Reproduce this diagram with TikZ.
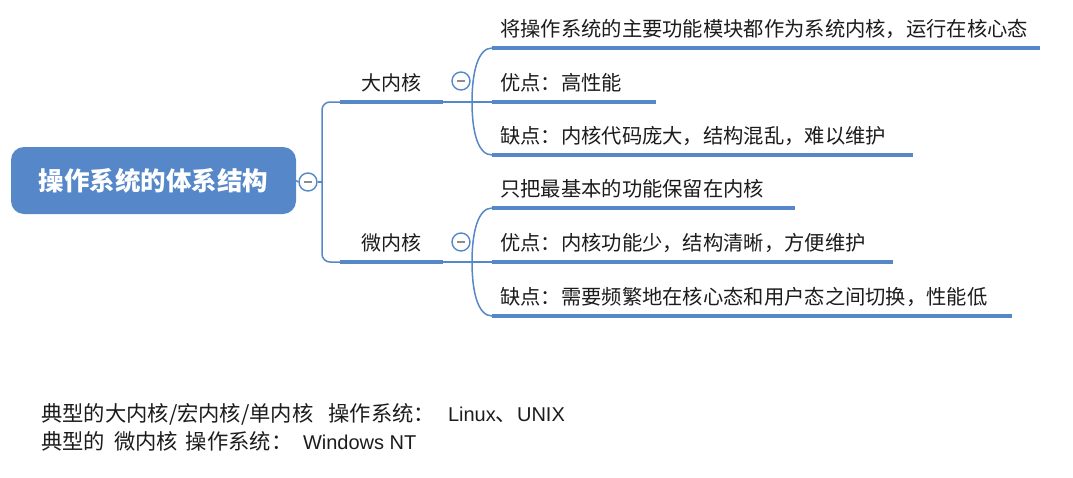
\documentclass[tikz,border=0pt]{standalone}
\usepackage{fontspec}
\setmainfont{Noto Sans CJK SC}
\newfontfamily\latinf{Liberation Sans}
\definecolor{xblue}{RGB}{86,136,201}
\definecolor{txt}{RGB}{28,28,28}
\definecolor{minusgray}{RGB}{140,140,140}
\begin{document}
\begin{tikzpicture}[x=1pt,y=-1pt,
  mainbox/.style={fill=xblue, rounded corners=13pt, minimum width=285pt, minimum height=67pt,
    text=white, inner sep=0pt, font=\fontsize{25.5}{30}\selectfont\bfseries},
  toggle/.style={circle, draw=xblue, line width=1.4pt, fill=white, minimum size=18pt, inner sep=0pt,
    path picture={\draw[line width=1.6pt, minusgray] ([xshift=-4pt]path picture bounding box.center) -- ([xshift=4pt]path picture bounding box.center);}},
  kernel/.style={anchor=south west, minimum width=103pt, minimum height=38pt, inner sep=0pt,
    text=txt, font=\fontsize{20}{24}\selectfont},
  leaf/.style={anchor=south west, text width=#1, align=left, inner xsep=8pt, inner ysep=0pt,
    minimum height=38pt, text=txt, font=\fontsize{20.3}{24}\selectfont},
  thinline/.style={draw=xblue, line width=1.5pt},
  uline/.style={draw=xblue, line width=3.6pt},
  note/.style={anchor=west, inner sep=0pt, text=txt, font=\fontsize{21.3}{25}\selectfont},
  latinpart/.style={}
]
\fill[white] (0,0) rectangle (1073,477);
\useasboundingbox (0,0) rectangle (1073,477);

% root
\node[mainbox] (root) at (153.5,180.5) {操作系统的体系结构};
\node[toggle] (t0) at (308,182) {};
\coordinate (j0) at (322,182);

% second level
\node[kernel] (k1) at (340,102) {大内核};
\node[kernel] (k2) at (340,262) {微内核};
\node[toggle] (t1) at (461,81) {};
\node[toggle] (t2) at (461,242) {};
\coordinate (j1) at (472,102);
\coordinate (j2) at (472,262);

% leaves
\node[leaf=532pt] (c11) at (492,48) {将操作系统的主要功能模块都作为系统内核，运行在核心态};
\node[leaf=148pt] (c12) at (492,102) {优点：高性能};
\node[leaf=405pt] (c13) at (492,155) {缺点：内核代码庞大，结构混乱，难以维护};
\node[leaf=287pt] (c21) at (492,208) {只把最基本的功能保留在内核};
\node[leaf=385pt] (c22) at (492,262) {优点：内核功能少，结构清晰，方便维护};
\node[leaf=504pt] (c23) at (492,316) {缺点：需要频繁地在核心态和用户态之间切换，性能低};

% connectors
\draw[thinline] (root.east) -- (t0.west);
\draw[thinline] (t0.east) -- (j0);
\draw[thinline, rounded corners=8pt] (j0) |- (k1.south west);
\draw[thinline, rounded corners=8pt] (j0) |- (k2.south west);

\draw[thinline] (k1.south east) -- (j1) -- (c12.south west);
\draw[thinline] (c11.south west) .. controls +(-14,0) and +(0,-30) .. (j1)
                .. controls +(0,30) and +(-14,0) .. (c13.south west);
\draw[thinline] (k2.south east) -- (j2) -- (c22.south west);
\draw[thinline] (c21.south west) .. controls +(-14,0) and +(0,-30) .. (j2)
                .. controls +(0,30) and +(-14,0) .. (c23.south west);

% underlines
\foreach \n in {k1,k2,c11,c12,c13,c21,c22,c23}
  \draw[uline] (\n.south west) -- (\n.south east);

% notes
\node[note] (n1) at (41,414) {典型的大内核/宏内核/单内核\hspace{15pt}操作系统：\hspace{13pt}{\latinf\fontsize{20}{24}\selectfont Linux}、{\latinf\fontsize{20}{24}\selectfont UNIX}};
\node[note] (n2) at (41,441) {典型的\hspace{9pt}微内核\hspace{8pt}操作系统：\hspace{10.5pt}{\latinf\fontsize{20}{24}\selectfont Windows NT}};
\end{tikzpicture}
\end{document}
